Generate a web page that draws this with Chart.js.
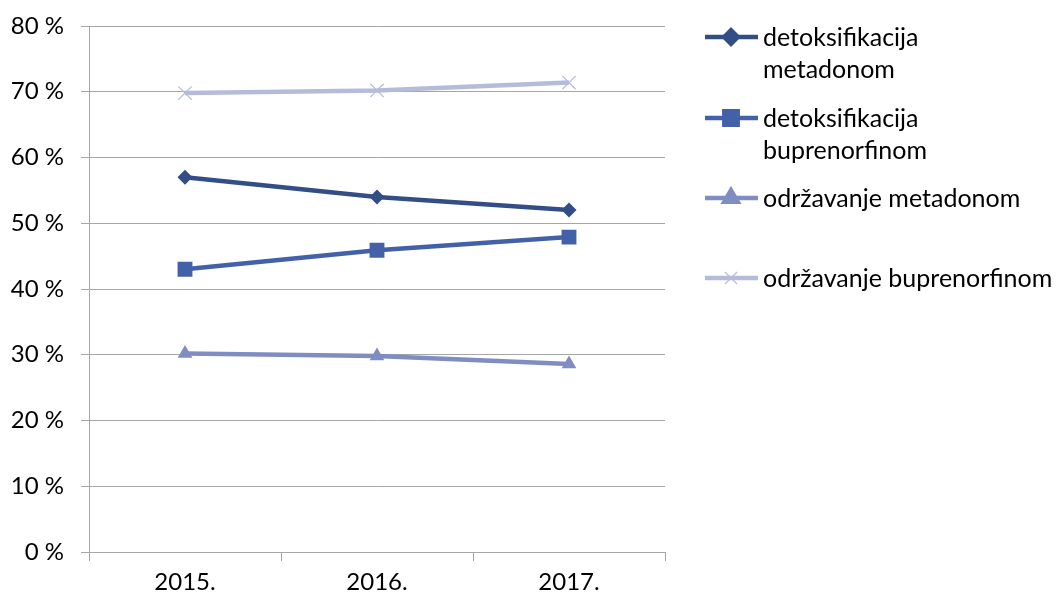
<!DOCTYPE html>
<html>
<head>
<meta charset="utf-8">
<script src="https://cdn.jsdelivr.net/npm/chart.js@4/dist/chart.umd.min.js"></script>
<style>
  html, body { margin: 0; padding: 0; background: #fff; }
  #wrap { width: 1057px; height: 599px; position: relative; }
</style>
</head>
<body>
<div id="wrap"><canvas id="c" width="1057" height="599"></canvas></div>
<script>
// ---- data ----
const categories = ['2015.', '2016.', '2017.'];
const detoksMetadonom = [57.0, 54.0, 52.0];
const detoksBuprenorfinom = [43.0, 45.9, 47.9];
const odrzavanjeMetadonom = [30.2, 29.8, 28.6];
const odrzavanjeBuprenorfinom = [69.8, 70.2, 71.4];
const seriesNames = ['detoksifikacija metadonom', 'detoksifikacija buprenorfinom', 'održavanje metadonom', 'održavanje buprenorfinom'];
const legendLines = [['detoksifikacija', 'metadonom'], ['detoksifikacija', 'buprenorfinom'], ['održavanje metadonom'], ['održavanje buprenorfinom']];
const yTicks = [0, 10, 20, 30, 40, 50, 60, 70, 80];

const FONT = 'Lato, "Open Sans", sans-serif';
const colors = ['#334D87', '#4361A8', '#7F8DC2', '#B5BCDA'];
const styles = [
  { pointStyle: 'rectRot', pointRadius: 7.5 },
  { pointStyle: 'rect', pointRadius: 10.5 },
  { pointStyle: 'triangle', pointRadius: 8.5 },
  { pointStyle: 'crossRot', pointRadius: 9.5 }
];
const seriesData = [detoksMetadonom, detoksBuprenorfinom, odrzavanjeMetadonom, odrzavanjeBuprenorfinom];

const datasets = seriesData.map((d, i) => ({
  label: seriesNames[i],
  data: d,
  borderColor: colors[i],
  backgroundColor: colors[i],
  borderWidth: 4.5,
  tension: 0,
  pointStyle: styles[i].pointStyle,
  pointRadius: styles[i].pointRadius,
  pointHoverRadius: styles[i].pointRadius,
  pointBackgroundColor: colors[i],
  pointBorderColor: colors[i],
  pointBorderWidth: styles[i].pointStyle === 'crossRot' ? 1.2 : 0,
  order: i
}));

const legendPlugin = {
  id: 'sideLegend',
  afterDraw(chart) {
    const ctx = chart.ctx;
    const rows = [37, 118, 198, 278];
    const lineH = 32;
    ctx.save();
    ctx.font = '25px ' + FONT;
    ctx.textBaseline = 'middle';
    ctx.fillStyle = '#000';
    rows.forEach((y, i) => {
      ctx.strokeStyle = colors[i];
      ctx.lineWidth = 4.5;
      ctx.beginPath();
      ctx.moveTo(705, y);
      ctx.lineTo(758, y);
      ctx.stroke();
      ctx.fillStyle = colors[i];
      ctx.strokeStyle = colors[i];
      ctx.lineWidth = styles[i].pointStyle === 'crossRot' ? 1.2 : 0;
      Chart.helpers.drawPoint(ctx, {
        pointStyle: styles[i].pointStyle,
        radius: styles[i].pointRadius * 0.9,
        rotation: 0,
        borderWidth: ctx.lineWidth
      }, 731, y);
      ctx.fillStyle = '#000';
      legendLines[i].forEach((t, j) => {
        ctx.fillText(t, 763, y + 1 + j * lineH);
      });
    });
    ctx.restore();
  }
};

new Chart(document.getElementById('c'), {
  type: 'line',
  data: { labels: categories, datasets },
  plugins: [legendPlugin],
  options: {
    responsive: false,
    devicePixelRatio: 1,
    animation: false,
    layout: { padding: { left: 0, right: 392, top: 26, bottom: 0 } },
    plugins: { legend: { display: false }, tooltip: { enabled: false } },
    scales: {
      x: {
        offset: true,
        grid: { offset: true, drawOnChartArea: false, drawTicks: true, tickLength: 9, color: '#A6A6A6', lineWidth: 1 },
        border: { color: '#A6A6A6', width: 1 },
        ticks: { color: '#000', font: { family: FONT, size: 24 }, padding: 7, maxRotation: 0 },
        afterFit(s) { s.height = 47; s.paddingLeft = 0; s.paddingRight = 0; }
      },
      y: {
        min: 0, max: 80,
        afterBuildTicks(s) { s.ticks = yTicks.map(v => ({ value: v })); },
        grid: { color: '#A6A6A6', lineWidth: 1, tickLength: 8 },
        border: { color: '#A6A6A6', width: 1 },
        ticks: { color: '#000', font: { family: FONT, size: 24 }, padding: 17, callback: v => v + ' %' },
        afterFit(s) { s.width = 89; s.paddingTop = 0; s.paddingBottom = 0; }
      }
    }
  }
});
</script>
</body>
</html>
